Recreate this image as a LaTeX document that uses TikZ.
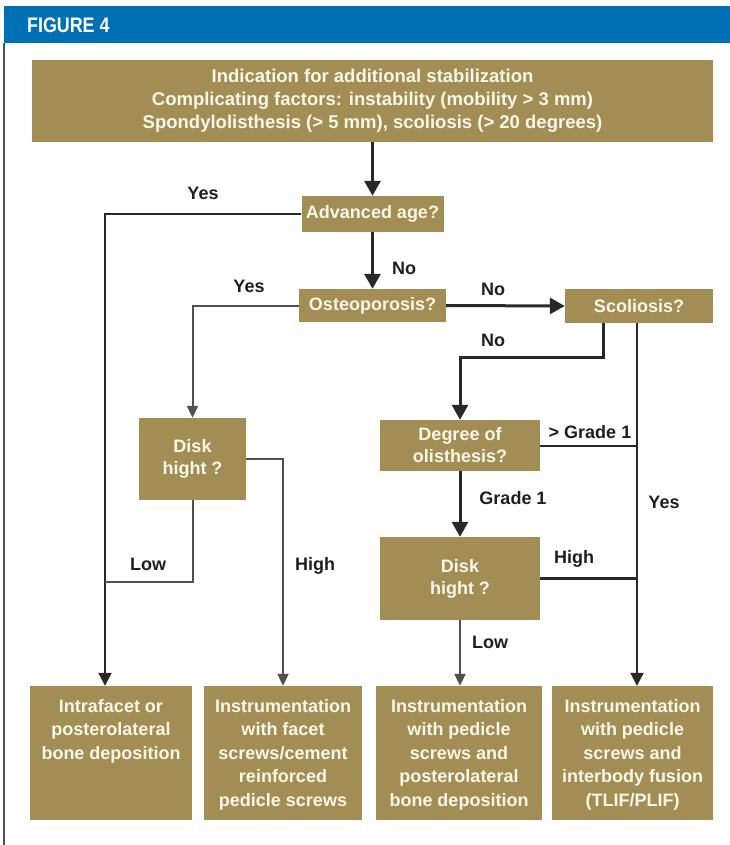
\documentclass[tikz,border=0pt]{standalone}
\usepackage{fontspec}
\setmainfont{Liberation Sans}
\newfontfamily\condfont{Liberation Sans}[FakeStretch=0.85]
\usetikzlibrary{arrows.meta}
\definecolor{gold}{RGB}{162,141,84}
\definecolor{cream}{RGB}{252,248,232}
\definecolor{hdrblue}{RGB}{0,112,181}
\definecolor{darkline}{RGB}{40,40,40}
\definecolor{grayline}{RGB}{80,80,80}
\begin{document}
\begin{tikzpicture}[x=1pt,y=-1pt,
  box/.style={fill=gold, draw=none, inner sep=0pt, text=cream, align=center,
    font=\bfseries\fontsize{18}{22}\selectfont},
  boxtext/.style={text=cream, align=center, inner sep=0pt, anchor=north,
    font=\bfseries\fontsize{18}{23.5}\selectfont},
  lbl/.style={font=\bfseries\fontsize{18}{22}\selectfont, text=black!88, inner sep=0pt},
  thickarr/.style={draw=darkline, line width=3pt, -{Triangle[length=15pt,width=16pt]}},
  thickline/.style={draw=darkline, line width=2.6pt},
  medarr/.style={draw=darkline, line width=2pt, -{Triangle[length=13pt,width=13pt]}},
  medline/.style={draw=darkline, line width=2pt},
  thinarr/.style={draw=grayline, line width=2pt, -{Triangle[length=12pt,width=11pt]}},
  thinline/.style={draw=grayline, line width=2pt}]
\useasboundingbox (0,0) rectangle (730,845);
\fill[white] (0,0) rectangle (730,845);
% header
\fill[hdrblue] (4,6) rectangle (730,43);
\node[anchor=west, text=white, inner sep=0pt, font=\condfont\bfseries\fontsize{21}{22}\selectfont] (fig) at (27,25.5) {FIGURE 4};
\draw[grayline, line width=1.3pt] (4,43) -- (4,845);
% boxes
\node[box, minimum width=681pt, minimum height=82pt, font=\bfseries\fontsize{18.5}{23}\selectfont] (top) at (372.5,101)
  {Indication for additional stabilization\\Complicating factors: instability (mobility > 3 mm)\\Spondylolisthesis (> 5 mm), scoliosis (> 20 degrees)};
\node[box, minimum width=142pt, minimum height=36pt] (adv) at (372.5,214) {Advanced age?};
\node[box, minimum width=147pt, minimum height=33pt] (ost) at (372.5,305.5) {Osteoporosis?};
\node[box, minimum width=148pt, minimum height=34pt] (sco) at (639,306) {Scoliosis?};
\node[box, minimum width=160pt, minimum height=51pt] (deg) at (460,445.5) {Degree of\\olisthesis?};
\node[box, minimum width=160pt, minimum height=83pt] (dh2) at (460,578.5) {Disk\\hight ?};
\node[box, minimum width=107pt, minimum height=82pt] (dh1) at (192.5,459) {Disk\\hight ?};
\node[box, minimum width=162pt, minimum height=134pt] (b1) at (111,753) {};
\node[box, minimum width=158pt, minimum height=134pt] (b2) at (283,753) {};
\node[box, minimum width=166pt, minimum height=134pt] (b3) at (459,753) {};
\node[box, minimum width=161pt, minimum height=134pt] (b4) at (632.5,753) {};
\node[boxtext] (b1t) at (111,699) {Intrafacet or\\posterolateral\\bone deposition};
\node[boxtext] (b2t) at (283,699) {Instrumentation\\with facet\\screws/cement\\reinforced\\pedicle screws};
\node[boxtext] (b3t) at (459,699) {Instrumentation\\with pedicle\\screws and\\posterolateral\\bone deposition};
\node[boxtext] (b4t) at (632.5,699) {Instrumentation\\with pedicle\\screws and\\interbody fusion\\(TLIF/PLIF)};
% helper coordinates
\coordinate (ys) at ([xshift=-2pt]sco.south);
\coordinate (ns) at ([xshift=-36pt]sco.south);
\coordinate (lx) at ([xshift=-6pt]b1.north);
\coordinate (lowj) at (105,582);
% connectors
\draw[thickarr] (top.south) -- (adv.north);
\draw[thickarr] (adv.south) -- (ost.north);
\draw[thickarr] (ost.east) -- (sco.west);
\draw[thickarr] (ns) -- ++(0,34) -| (deg.north);
\draw[thickarr] (deg.south) -- (dh2.north);
\draw[medarr] (adv.west) -| (lx);
\draw[thinarr] (ost.west) -| (dh1.north);
\draw[thinarr] (dh1.east) -| (b2.north);
\draw[thinline] (dh1.south) |- (lowj);
\draw[thinarr] (dh2.south) -- (dh2.south |- b3.north);
\draw[medarr] (ys) -- (ys |- b4.north);
\draw[medline] (deg.east) -- (deg.east -| ys);
\draw[thickline] (dh2.east) -- (dh2.east -| ys);
% labels
\node[lbl] (l1) at (203,193) {Yes};
\node[lbl] (l2) at (404,268) {No};
\node[lbl] (l3) at (249,286) {Yes};
\node[lbl] (l4) at (493,289) {No};
\node[lbl] (l5) at (493,340) {No};
\node[lbl] (l6) at (590,432) {> Grade 1};
\node[lbl] (l7) at (513,498) {Grade 1};
\node[lbl] (l8) at (664,502) {Yes};
\node[lbl] (l9) at (574,559) {High};
\node[lbl] (l10) at (490,642) {Low};
\node[lbl] (l11) at (315,566) {High};
\node[lbl] (l12) at (148,564) {Low};
\end{tikzpicture}
\end{document}
